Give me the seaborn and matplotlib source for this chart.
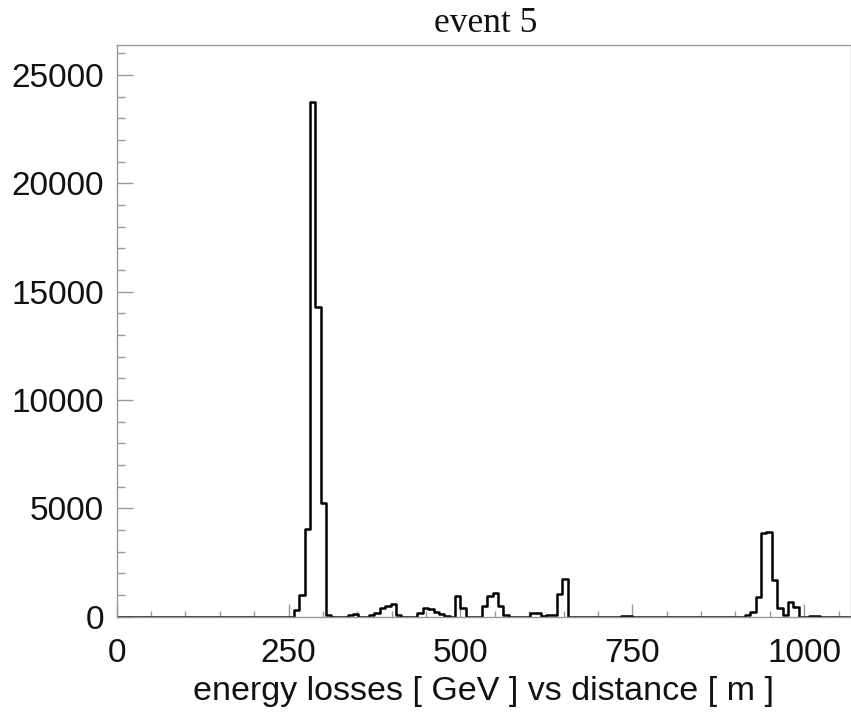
import numpy as np
import pandas as pd
import seaborn as sns
import matplotlib
matplotlib.use("Agg")
import matplotlib.pyplot as plt
from matplotlib.ticker import MultipleLocator

# ---- data (bin centres in m, energy loss per bin in GeV) ----
distance = [262, 269, 277, 285, 293, 301, 308,
            340, 348, 371, 379, 387, 394, 402, 410,
            441, 449, 457, 465, 472, 480,
            496, 504,
            535, 543, 551, 558, 566,
            605, 613, 621, 629, 637, 644, 652,
            738, 746,
            918, 926, 933, 941, 949, 957, 965, 972, 980, 988,
            1012, 1019]
energy = [290, 980, 4030, 23750, 14300, 5270, 60,
          60, 120, 77, 185, 415, 492, 570, 77,
          185, 415, 340, 230, 120, 50,
          970, 415,
          492, 970, 1100, 492, 77,
          150, 185, 20, 90, 90, 1030, 1720,
          40, 40,
          80, 230, 920, 3850, 3900, 1690, 415, 80, 665, 460,
          30, 30]
hist_range = (0, 1070)
n_bins = 137
title = "event 5"
xlabel = "energy losses [ GeV ] vs distance [ m ]"

df = pd.DataFrame({"distance": distance, "energy": energy})

sns.set_style("white")
plt.rcParams["font.family"] = ["Liberation Sans", "DejaVu Sans"]

fig = plt.figure(figsize=(8.51, 7.21), dpi=100)
ax = fig.add_axes([116.7 / 851, 1 - 616.7 / 721, 1 - 116.7 / 851, (616.7 - 45) / 721])

sns.histplot(data=df, x="distance", weights="energy", bins=n_bins,
             binrange=hist_range, element="step", fill=False,
             color="black", linewidth=1.8, ax=ax)

ax.set_xlim(0, 1068)
ax.set_ylim(0, 26390)
ax.set_ylabel("")
ax.set_xlabel(xlabel, fontsize=24.5, labelpad=5, color="#111111")

ax.xaxis.set_major_locator(MultipleLocator(250))
ax.xaxis.set_minor_locator(MultipleLocator(50))
ax.yaxis.set_major_locator(MultipleLocator(5000))
ax.yaxis.set_minor_locator(MultipleLocator(1000))

ax.tick_params(axis="both", which="both", direction="in", color="#999999",
               width=1.0, labelsize=24, labelcolor="#111111")
ax.tick_params(axis="y", which="major", length=11.3, pad=9)
ax.tick_params(axis="y", which="minor", length=5.5)
ax.tick_params(axis="x", which="major", length=9.4, pad=15.5)
ax.tick_params(axis="x", which="minor", length=4.3)
ax.tick_params(bottom=True, left=True, which="both")

for s in ax.spines.values():
    s.set_color("#999999")
    s.set_linewidth(1.0)

fig.text(486 / 851, 1 - 23.5 / 721, title, ha="center", va="center",
         fontsize=25.5, family=["Liberation Serif", "DejaVu Serif"], color="#111111")

fig.savefig("out.png", dpi=100)
